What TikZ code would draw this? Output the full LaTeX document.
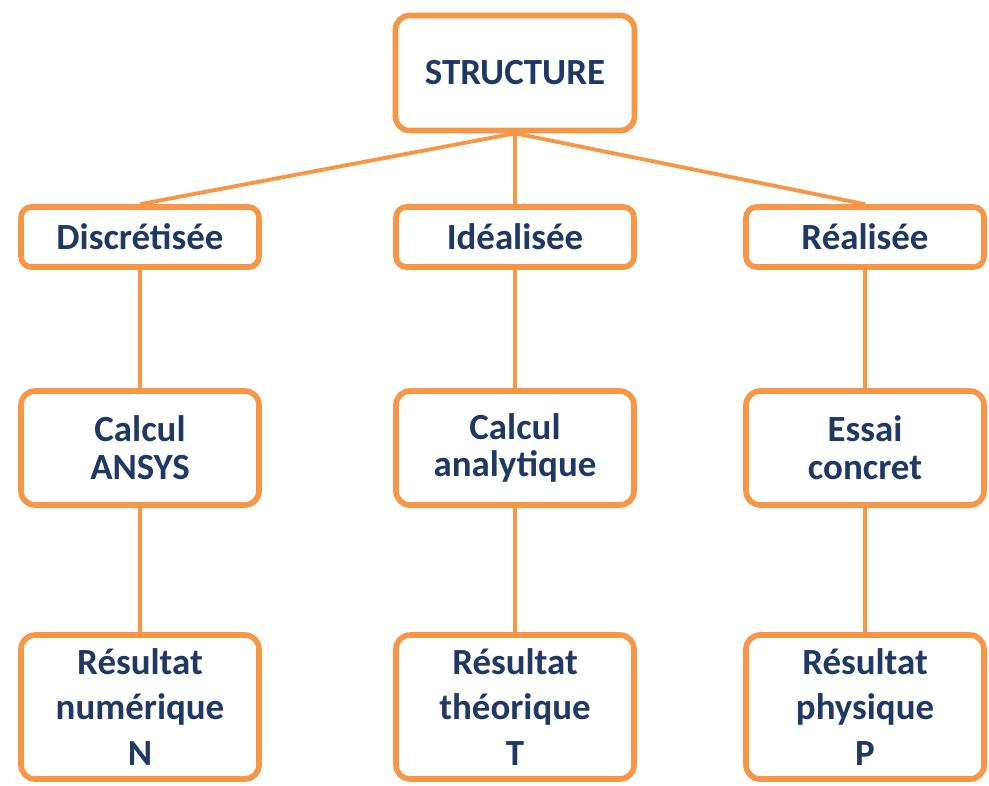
\documentclass[tikz,border=0pt]{standalone}
\usepackage{fontspec}
\setmainfont{Carlito}
\usetikzlibrary{shadows}
\definecolor{boxorange}{RGB}{247,150,70}
\definecolor{textnavy}{RGB}{31,56,100}

\begin{document}
\begin{tikzpicture}[
  box/.style={draw=boxorange, line width=3.2pt, fill=white, rounded corners=8pt,
    text=textnavy, align=center, inner sep=0pt, minimum width=4.76cm,
    drop shadow={opacity=0.18, shadow xshift=1.2pt, shadow yshift=-1.5pt}},
  small/.style={box, rounded corners=6pt, minimum height=1.2cm, font=\fontsize{21}{23}\selectfont\bfseries},
  mid/.style={box, minimum height=2.28cm, font=\fontsize{21}{21.5}\selectfont\bfseries},
  tall/.style={box, minimum height=2.88cm, font=\fontsize{21}{26}\selectfont\bfseries},
  link/.style={draw=boxorange, line width=2.2pt}
]
\useasboundingbox (0,0) rectangle (19.78,-15.7);

\node[box, minimum width=4.78cm, minimum height=2.3cm, font=\fontsize{21}{23}\selectfont\bfseries] (struct) at (10.30,-1.46) {STRUCTURE};

\node[small] (disc) at (2.80,-4.74) {Discrétisée};
\node[small] (ideal) at (10.30,-4.74) {Idéalisée};
\node[small] (real) at (17.30,-4.74) {Réalisée};

\node[mid] (ansys) at (2.80,-8.96) {Calcul\\ANSYS};
\node[mid] (analy) at (10.30,-8.96) {Calcul\\analytique};
\node[mid] (essai) at (17.30,-8.96) {Essai\\concret};

\node[tall] (resN) at (2.80,-14.14) {Résultat\\numérique\\N};
\node[tall] (resT) at (10.30,-14.14) {Résultat\\théorique\\T};
\node[tall] (resP) at (17.30,-14.14) {Résultat\\physique\\P};

\draw[link] (struct.south) -- (disc.north);
\draw[link] (struct.south) -- (ideal.north);
\draw[link] (struct.south) -- (real.north);

\draw[link] (disc) -- (ansys);
\draw[link] (ideal) -- (analy);
\draw[link] (real) -- (essai);

\draw[link] (ansys) -- (resN);
\draw[link] (analy) -- (resT);
\draw[link] (essai) -- (resP);
\end{tikzpicture}
\end{document}
